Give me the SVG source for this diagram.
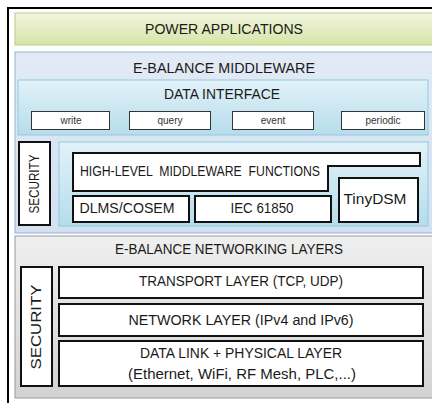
<svg xmlns="http://www.w3.org/2000/svg" width="432" height="403" viewBox="0 0 432 403">
<defs>
<linearGradient id="gGreen" x1="0" y1="0" x2="0" y2="1"><stop offset="0" stop-color="#f2f6e0"/><stop offset="1" stop-color="#d7e4a6"/></linearGradient>
<linearGradient id="gMid" x1="0" y1="0" x2="0" y2="1"><stop offset="0" stop-color="#e2eaf5"/><stop offset="1" stop-color="#d4e0f0"/></linearGradient>
<linearGradient id="gAqua" x1="0" y1="0" x2="0" y2="1"><stop offset="0" stop-color="#e2f2f8"/><stop offset="1" stop-color="#b6dcec"/></linearGradient>
<linearGradient id="gGrey" x1="0" y1="0" x2="0" y2="1"><stop offset="0" stop-color="#efefef"/><stop offset="1" stop-color="#d2d2d2"/></linearGradient>
</defs>
<style>
text{font-family:"Liberation Sans",Arial,sans-serif;fill:#1a1a1a;text-anchor:middle}
.t{font-size:14px}
.s{font-size:10px;fill:#333}
.box{fill:#fff;stroke:#111;stroke-width:2}
.btn{fill:#fff;stroke:#333;stroke-width:1}
</style>
<rect width="432" height="403" fill="#fff"/>
<path d="M8,403 V8 H432" fill="none" stroke="#000" stroke-width="2"/>

<g id="power-applications">
<rect x="15" y="13" width="430" height="32" fill="url(#gGreen)" stroke="#b9cc86" stroke-width="1"/>
<text class="t" x="224" y="34" textLength="158" lengthAdjust="spacingAndGlyphs">POWER APPLICATIONS</text>
</g>

<g id="middleware">
<rect x="15" y="52" width="430" height="181" fill="url(#gMid)" stroke="#94b2d8" stroke-width="1"/>
<text class="t" x="224" y="73" textLength="182" lengthAdjust="spacingAndGlyphs">E-BALANCE MIDDLEWARE</text>
</g>

<g id="data-interface">
<rect x="18" y="80" width="410" height="55" fill="url(#gAqua)" stroke="#8ccbe0" stroke-width="1"/>
<text class="t" x="222" y="99" textLength="116" lengthAdjust="spacingAndGlyphs">DATA INTERFACE</text>
</g>
<g id="write"><rect class="btn" x="31.5" y="111.5" width="78" height="18"/><text class="s" x="71" y="124">write</text></g>
<g id="query"><rect class="btn" x="129.5" y="111.5" width="81" height="18"/><text class="s" x="170" y="124">query</text></g>
<g id="event"><rect class="btn" x="232.5" y="111.5" width="81" height="18"/><text class="s" x="273" y="124">event</text></g>
<g id="periodic"><rect class="btn" x="341.5" y="111.5" width="83" height="18"/><text class="s" x="383" y="124">periodic</text></g>

<g id="mw-security">
<rect class="box" x="19" y="142" width="31" height="83"/>
<text class="t" transform="translate(39,184) rotate(-90)" textLength="59" lengthAdjust="spacingAndGlyphs">SECURITY</text>
</g>

<g id="mw-functions-area">
<rect x="59" y="142" width="369" height="84" fill="url(#gAqua)" stroke="#8ccbe0" stroke-width="1"/>
</g>

<g id="high-level-functions">
<path class="box" d="M73,153 H420 V166 H328 V191 H73 Z"/>
<text class="t" x="200" y="176" textLength="240" lengthAdjust="spacingAndGlyphs" xml:space="preserve">HIGH-LEVEL  MIDDLEWARE  FUNCTIONS</text>
</g>
<g id="tinydsm"><rect class="box" x="339" y="178" width="79" height="44"/><text class="t" x="375" y="204" textLength="63" lengthAdjust="spacingAndGlyphs">TinyDSM</text></g>
<g id="dlms-cosem"><rect class="box" x="73" y="196" width="116" height="26"/><text class="t" x="127" y="213" textLength="95" lengthAdjust="spacingAndGlyphs">DLMS/COSEM</text></g>
<g id="iec-61850"><rect class="box" x="195" y="196" width="136" height="26"/><text class="t" x="262" y="213" textLength="63" lengthAdjust="spacingAndGlyphs">IEC 61850</text></g>

<g id="networking-layers">
<rect x="15" y="236" width="430" height="162" fill="url(#gGrey)" stroke="#9a9a9a" stroke-width="1"/>
<text class="t" x="229" y="254" textLength="228" lengthAdjust="spacingAndGlyphs">E-BALANCE NETWORKING LAYERS</text>
</g>
<g id="net-security">
<rect class="box" x="21" y="267" width="31" height="119"/>
<text class="t" transform="translate(41,327) rotate(-90)" textLength="85" lengthAdjust="spacingAndGlyphs">SECURITY</text>
</g>
<g id="transport"><rect class="box" x="59" y="267" width="364" height="31"/><text class="t" x="241" y="286" textLength="204" lengthAdjust="spacingAndGlyphs">TRANSPORT LAYER (TCP, UDP)</text></g>
<g id="network"><rect class="box" x="59" y="304" width="364" height="32"/><text class="t" x="241" y="325" textLength="225" lengthAdjust="spacingAndGlyphs">NETWORK LAYER (IPv4 and IPv6)</text></g>
<g id="datalink"><rect class="box" x="59" y="341" width="364" height="45"/>
<text class="t" x="241" y="358" textLength="202" lengthAdjust="spacingAndGlyphs">DATA LINK + PHYSICAL LAYER</text>
<text class="t" x="242" y="379" textLength="228" lengthAdjust="spacingAndGlyphs">(Ethernet, WiFi, RF Mesh, PLC,...)</text></g>
<g id="connectors"/>
</svg>
